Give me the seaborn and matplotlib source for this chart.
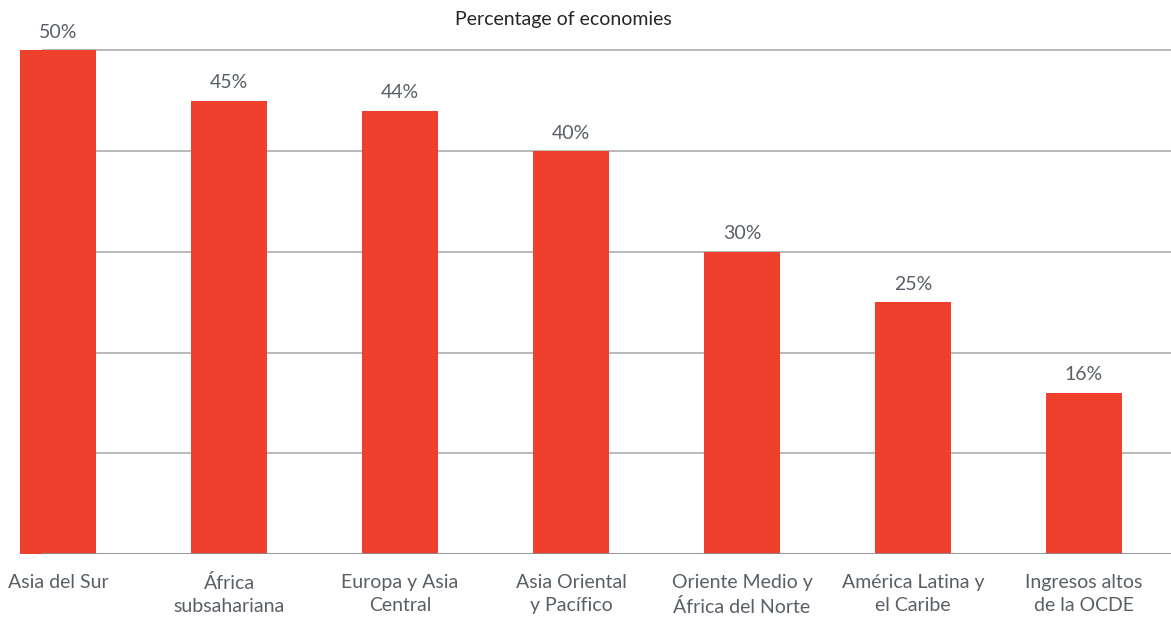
import matplotlib
matplotlib.use("Agg")
import matplotlib.pyplot as plt
import seaborn as sns
import pandas as pd

# Share of economies by region
regions = [
    "Asia del Sur",
    "África\nsubsahariana",
    "Europa y Asia\nCentral",
    "Asia Oriental\ny Pacífico",
    "Oriente Medio y\nÁfrica del Norte",
    "América Latina y\nel Caribe",
    "Ingresos altos\nde la OCDE",
]
shares = [50, 45, 44, 40, 30, 25, 16]
value_labels = ["50%", "45%", "44%", "40%", "30%", "25%", "16%"]
title = "Percentage of economies"

df = pd.DataFrame({"region": regions, "share": shares})

sns.set_theme(style="white")
plt.rcParams["font.family"] = ["Lato", "DejaVu Sans"]

W, H = 1171, 617
fig = plt.figure(figsize=(W / 100, H / 100), dpi=100)
ax_left, ax_bottom = 42 / W, (H - 554) / H
ax = fig.add_axes([ax_left, ax_bottom, 1 - ax_left, 554 / H])

bar_color = "#EE402D"
sns.barplot(data=df, x="region", y="share", color=bar_color, width=76 / 171,
            saturation=1, linewidth=0, edgecolor="none", ax=ax, zorder=3)
for p in ax.patches:
    p.set_clip_on(False)

# category spacing of 171 px, first category centred at x = 58 px
ax.set_xlim(-16 / 171, (W - 58) / 171)
ax.set_ylim(0, 55)

for v in [10, 20, 30, 40, 50]:
    ax.axhline(v, color="#A6A6A6", lw=1.1, zorder=1)
ax.axhline(0, color="#8C8C8C", lw=1.3, zorder=4)

for i, (v, lab) in enumerate(zip(shares, value_labels)):
    ax.annotate(lab, (i, v), xytext=(0, 13), textcoords="offset points",
                ha="center", va="center", fontsize=14, color="#595F66",
                annotation_clip=False)

sns.despine(ax=ax, left=True, bottom=True)
ax.set_yticks([])
ax.set_xlabel("")
ax.set_ylabel("")
ax.tick_params(axis="x", length=0, pad=14.5, labelsize=14, labelcolor="#595F66")
for t in ax.get_xticklabels():
    t.set_linespacing(1.45)
    t.set_verticalalignment("top")

fig.text(563 / W, 1 - 20 / H, title, ha="center", va="center",
         fontsize=14, color="#262626")

fig.savefig("out.png", dpi=100, facecolor="white")
